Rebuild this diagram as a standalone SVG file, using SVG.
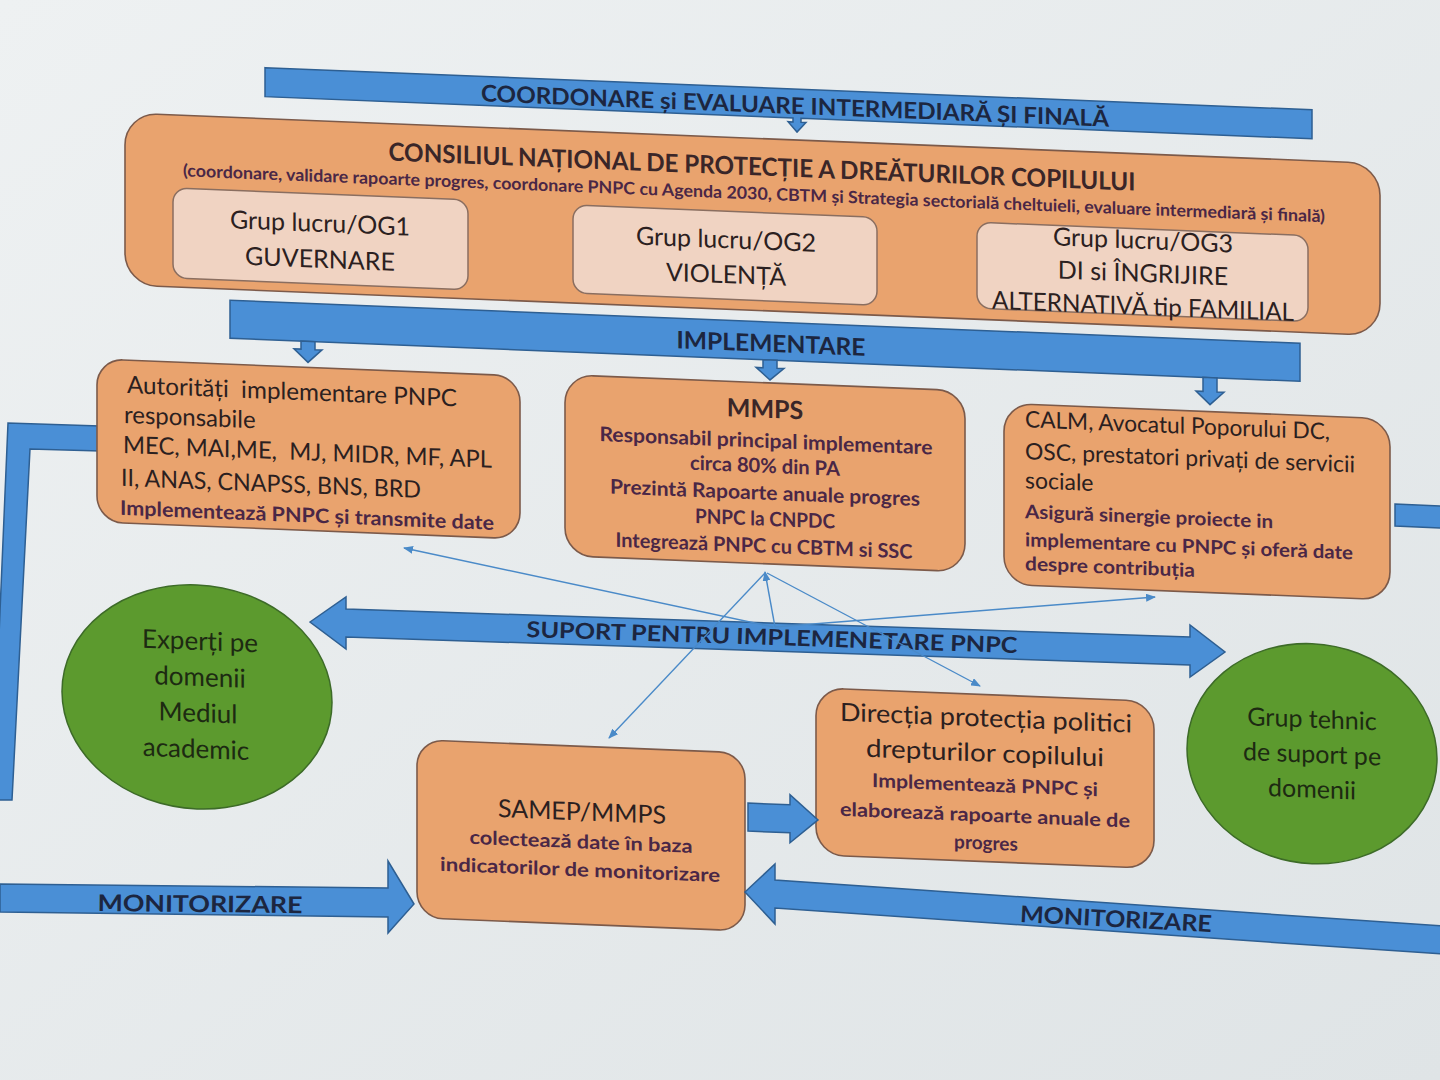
<svg xmlns="http://www.w3.org/2000/svg" width="1440" height="1080" viewBox="0 0 1440 1080">
<defs>
<style>
.t{font-family:Lato,"Open Sans","Liberation Sans",sans-serif}
.r{fill:#2b2020}
.b{font-weight:700;fill:#4a2746}
.bn{font-weight:700;fill:#1c2640}
.box{fill:#e9a36e;stroke:#7c5a4a;stroke-width:1.6}
.og{fill:#f0d3c2;stroke:#8a6e60;stroke-width:1.5}
.blue{fill:#4a8fd6;stroke:#2e5f92;stroke-width:1.5}
.green{fill:#5c9a2e;stroke:#3d6b28;stroke-width:1.5}
.gt{fill:#1d2a12}
.thin{stroke:#4a8ac8;stroke-width:1.4;fill:none}
</style>
<marker id="ah" viewBox="0 0 10 8" refX="9" refY="4" markerWidth="10" markerHeight="8" markerUnits="userSpaceOnUse" orient="auto"><path d="M0,0 L10,4 L0,8 z" fill="#4a8ac8"/></marker>
<linearGradient id="bg" x1="0" y1="0" x2="1" y2="1"><stop offset="0" stop-color="#eef1f2"/><stop offset="1" stop-color="#dfe4e6"/></linearGradient>
</defs>
<rect width="1440" height="1080" fill="url(#bg)"/>

<g id="side-bars">
<polygon class="blue" points="100,426 8,423 -8,800 12,800 30,449 100,451"/>
<polygon class="blue" points="1395,504 1442,506 1442,528 1395,526"/>
</g>

<g transform="matrix(1,0.0402,0,1,0,0)">
<g id="banner-coordonare">
<path class="blue" d="M265,57 H1312 V86 H801 V90 H806 L797,100 L788,90 H793 V86 H265 Z"/>
<text class="t bn" x="795" y="82" font-size="23" text-anchor="middle" textLength="628" lengthAdjust="spacingAndGlyphs">COORDONARE și EVALUARE INTERMEDIARĂ ȘI FINALĂ</text>
</g>
<g id="cnpdc">
<rect class="box" x="125" y="108" width="1255" height="172" rx="32"/>
<text class="t" x="762" y="145" font-size="25" font-weight="700" fill="#3a2628" text-anchor="middle" textLength="747" lengthAdjust="spacingAndGlyphs">CONSILIUL NAȚIONAL DE PROTECȚIE A DREĂTURILOR COPILULUI</text>
<text class="t b" x="754" y="169" font-size="17" text-anchor="middle" textLength="1142" lengthAdjust="spacingAndGlyphs">(coordonare, validare rapoarte progres, coordonare PNPC cu Agenda 2030, CBTM și Strategia sectorială cheltuieli, evaluare intermediară și finală)</text>
</g>
<g id="og1">
<rect class="og" x="173" y="181" width="295" height="90" rx="14"/>
<text class="t r" x="320" y="219" font-size="25" text-anchor="middle">Grup lucru/OG1</text>
<text class="t r" x="320" y="255" font-size="25" text-anchor="middle">GUVERNARE</text>
</g>
<g id="og2">
<rect class="og" x="573" y="182" width="304" height="88" rx="14"/>
<text class="t r" x="726" y="219" font-size="25" text-anchor="middle">Grup lucru/OG2</text>
<text class="t r" x="726" y="254" font-size="25" text-anchor="middle">VIOLENȚĂ</text>
</g>
<g id="og3">
<rect class="og" x="977" y="183" width="331" height="86" rx="14"/>
<text class="t r" x="1143" y="203" font-size="25" text-anchor="middle">Grup lucru/OG3</text>
<text class="t r" x="1143" y="236" font-size="25" text-anchor="middle">DI si ÎNGRIJIRE</text>
<text class="t r" x="1143" y="269" font-size="25" text-anchor="middle" textLength="302" lengthAdjust="spacingAndGlyphs">ALTERNATIVĂ tip FAMILIAL</text>
</g>
<g id="banner-implementare">
<rect class="blue" x="230" y="291" width="1070" height="38"/>
<text class="t bn" x="771" y="321" font-size="24" text-anchor="middle" textLength="189" lengthAdjust="spacingAndGlyphs">IMPLEMENTARE</text>
</g>
<g id="autoritati">
<rect class="box" x="97" y="355" width="423" height="163" rx="26"/>
<text class="t r" x="127" y="388" font-size="24" xml:space="preserve" textLength="330" lengthAdjust="spacingAndGlyphs">Autorități  implementare PNPC</text>
<text class="t r" x="124" y="418" font-size="24">responsabile</text>
<text class="t r" x="123" y="448" font-size="24" xml:space="preserve" textLength="369" lengthAdjust="spacingAndGlyphs">MEC, MAI,ME,  MJ, MIDR, MF, APL</text>
<text class="t r" x="121" y="481" font-size="24" textLength="300" lengthAdjust="spacingAndGlyphs">II, ANAS, CNAPSS, BNS, BRD</text>
<text class="t b" x="120" y="510" font-size="20" textLength="374" lengthAdjust="spacingAndGlyphs">Implementează PNPC și transmite date</text>
</g>
<g id="mmps">
<rect class="box" x="565" y="352" width="400" height="181" rx="28"/>
<text class="t" x="765" y="387" font-size="25" font-weight="700" fill="#3a2628" text-anchor="middle">MMPS</text>
<text class="t b" x="766" y="417" font-size="20" text-anchor="middle" textLength="333" lengthAdjust="spacingAndGlyphs">Responsabil principal implementare</text>
<text class="t b" x="765" y="442" font-size="20" text-anchor="middle" textLength="150" lengthAdjust="spacingAndGlyphs">circa 80% din PA</text>
<text class="t b" x="765" y="469" font-size="20" text-anchor="middle" textLength="310" lengthAdjust="spacingAndGlyphs">Prezintă Rapoarte anuale progres</text>
<text class="t b" x="765" y="495" font-size="20" text-anchor="middle" textLength="140" lengthAdjust="spacingAndGlyphs">PNPC la CNPDC</text>
<text class="t b" x="764" y="522" font-size="20" text-anchor="middle" textLength="297" lengthAdjust="spacingAndGlyphs">Integrează PNPC cu CBTM si SSC</text>
</g>
<g id="calm">
<rect class="box" x="1004" y="363" width="386" height="181" rx="28"/>
<text class="t r" x="1025" y="386" font-size="23" textLength="305" lengthAdjust="spacingAndGlyphs">CALM, Avocatul Poporului DC,</text>
<text class="t r" x="1025" y="418" font-size="23" textLength="330" lengthAdjust="spacingAndGlyphs">OSC, prestatori privați de servicii</text>
<text class="t r" x="1025" y="447" font-size="23">sociale</text>
<text class="t b" x="1025" y="477" font-size="19" textLength="248" lengthAdjust="spacingAndGlyphs">Asigură sinergie proiecte in</text>
<text class="t b" x="1025" y="505" font-size="19" textLength="328" lengthAdjust="spacingAndGlyphs">implementare cu PNPC și oferă date</text>
<text class="t b" x="1025" y="529" font-size="19" textLength="170" lengthAdjust="spacingAndGlyphs">despre contribuția</text>
</g>
<g id="experti">
<ellipse class="green" cx="197" cy="689" rx="135" ry="112"/>
<text class="t gt" x="200" y="642" font-size="26" text-anchor="middle">Experți pe</text>
<text class="t gt" x="200" y="678" font-size="26" text-anchor="middle">domenii</text>
<text class="t gt" x="198" y="714" font-size="26" text-anchor="middle">Mediul</text>
<text class="t gt" x="196" y="750" font-size="26" text-anchor="middle">academic</text>
</g>
<g id="grup-tehnic">
<ellipse class="green" cx="1312" cy="701" rx="125" ry="110"/>
<text class="t gt" x="1312" y="675" font-size="25" text-anchor="middle">Grup tehnic</text>
<text class="t gt" x="1312" y="710" font-size="25" text-anchor="middle">de suport pe</text>
<text class="t gt" x="1312" y="745" font-size="25" text-anchor="middle">domenii</text>
</g>
<g id="samep">
<rect class="box" x="417" y="723" width="328" height="178" rx="26"/>
<text class="t r" x="582" y="797" font-size="25" text-anchor="middle">SAMEP/MMPS</text>
<text class="t b" x="581" y="825" font-size="19" text-anchor="middle" textLength="223" lengthAdjust="spacingAndGlyphs">colectează date în baza</text>
<text class="t b" x="580" y="853" font-size="19" text-anchor="middle" textLength="280" lengthAdjust="spacingAndGlyphs">indicatorilor de monitorizare</text>
</g>
<g id="directia">
<rect class="box" x="816" y="655" width="338" height="167" rx="28"/>
<text class="t r" x="986" y="687" font-size="25" text-anchor="middle" textLength="292" lengthAdjust="spacingAndGlyphs">Direcția protecția politici</text>
<text class="t r" x="985" y="722" font-size="25" text-anchor="middle" textLength="238" lengthAdjust="spacingAndGlyphs">drepturilor copilului</text>
<text class="t b" x="985" y="752" font-size="19" text-anchor="middle" textLength="226" lengthAdjust="spacingAndGlyphs">Implementează PNPC și</text>
<text class="t b" x="985" y="782" font-size="19" text-anchor="middle" textLength="290" lengthAdjust="spacingAndGlyphs">elaborează rapoarte anuale de</text>
<text class="t b" x="986" y="810" font-size="19" text-anchor="middle">progres</text>
</g>
</g>

<g id="suport">
<polygon class="blue" points="310,622 346,597 346,609 1190,637 1190,625 1225,652 1190,677 1190,665 346,637 346,649"/>
<text class="t bn" x="772" y="645" font-size="22" text-anchor="middle" transform="rotate(1.88 772 637)" textLength="491" lengthAdjust="spacingAndGlyphs">SUPORT PENTRU IMPLEMENETARE PNPC</text>
</g>
<g id="monitorizare-left">
<polygon class="blue" points="0,884 388,888 388,861 414,904 388,933 388,917 0,912"/>
<text class="t bn" x="200" y="912" font-size="23" text-anchor="middle" transform="rotate(0.6 200 904)" textLength="205" lengthAdjust="spacingAndGlyphs">MONITORIZARE</text>
</g>
<g id="monitorizare-right">
<polygon class="blue" points="745,892 775,864 775,880 1442,926 1442,954 775,908 775,924"/>
<text class="t bn" x="1116" y="927" font-size="23" text-anchor="middle" transform="rotate(3 1116 918)" textLength="192" lengthAdjust="spacingAndGlyphs">MONITORIZARE</text>
</g>

<g id="connectors">
<g transform="matrix(1,0.0402,0,1,0,0)">
<path class="blue" d="M301,329 V337 H294 L308,350 L322,337 H315 V329 Z"/>
<path class="blue" d="M763,329 V337 H756 L770,349 L784,337 H777 V329 Z"/>
<path class="blue" d="M1203,329 V343 H1196 L1210,356 L1224,343 H1217 V329 Z"/>
<path class="blue" d="M748,773 H790 V763 L818,787 L790,811 V801 H748 Z"/>
</g>
<line class="thin" x1="773" y1="627" x2="404" y2="548" marker-end="url(#ah)"/>
<line class="thin" x1="775" y1="627" x2="765" y2="572" marker-end="url(#ah)"/>
<line class="thin" x1="775" y1="627" x2="1155" y2="597" marker-end="url(#ah)"/>
<line class="thin" x1="765" y1="573" x2="609" y2="738" marker-end="url(#ah)"/>
<line class="thin" x1="767" y1="573" x2="980" y2="686" marker-end="url(#ah)"/>
</g>
</svg>
